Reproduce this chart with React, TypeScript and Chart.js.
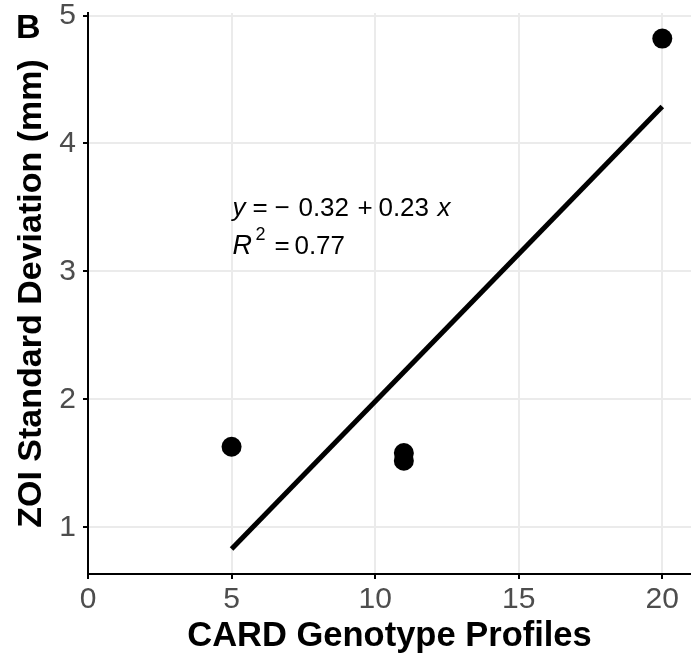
import React, { useEffect, useRef } from "react";
import { Chart, registerables } from "chart.js";

Chart.register(...registerables);

// ---- data ----
const profiles = [5, 11, 11, 20];
const zoiSD = [1.63, 1.58, 1.52, 4.82];
const fitX = [5, 20];
const fitY = [0.83, 4.29];
const xTicks = [0, 5, 10, 15, 20];
const yTicks = [1, 2, 3, 4, 5];
const xTitle = "CARD Genotype Profiles";
const yTitle = "ZOI Standard Deviation (mm)";
const panelTag = "B";
// equation label (anchor in data coordinates)
const eqAnchorX = 5.03;
const eqAnchorY = 3.435;
const eqLine1 = ["y", "=", "\u2212", "0.32", "+", "0.23", "x"];
const eqLine1Italic = [true, false, false, false, false, false, true];
const eqLine1Offsets = [0, 20, 42, 66, 125, 146, 205];
const eqLine2 = ["R", "2", "=", "0.77"];
const eqLine2Offsets = [0, 23, 42, 62];

const FONT = "'Liberation Sans', Arial, Helvetica, sans-serif";

const labelPlugin = {
  id: "labels",
  afterDatasetsDraw(chart: any) {
    const ctx = chart.ctx;
    const xs = chart.scales.x;
    const ys = chart.scales.y;
    const ax = xs.getPixelForValue(eqAnchorX);
    const ay = ys.getPixelForValue(eqAnchorY);
    ctx.save();
    ctx.fillStyle = "#000";
    ctx.textBaseline = "alphabetic";
    ctx.textAlign = "left";
    eqLine1.forEach((t, i) => {
      ctx.font = `${eqLine1Italic[i] ? "italic " : ""}26px ${FONT}`;
      ctx.fillText(t, ax + eqLine1Offsets[i], ay);
    });
    const ay2 = ay + 38;
    eqLine2.forEach((t, i) => {
      if (i === 0) {
        ctx.font = `italic 27px ${FONT}`;
        ctx.fillText(t, ax + eqLine2Offsets[i], ay2);
      } else if (i === 1) {
        ctx.font = `18px ${FONT}`;
        ctx.fillText(t, ax + eqLine2Offsets[i], ay2 - 14);
      } else {
        ctx.font = `26px ${FONT}`;
        ctx.fillText(t, ax + eqLine2Offsets[i], ay2);
      }
    });
    ctx.restore();
  },
  afterDraw(chart: any) {
    const ctx = chart.ctx;
    ctx.save();
    ctx.fillStyle = "#000";
    ctx.font = `bold 34px ${FONT}`;
    ctx.textBaseline = "alphabetic";
    ctx.textAlign = "left";
    ctx.fillText(panelTag, 16, 38);
    ctx.restore();
  },
};

export default function App() {
  const ref = useRef<HTMLCanvasElement | null>(null);

  useEffect(() => {
    if (!ref.current) return;
    const chart = new Chart(ref.current, {
      type: "scatter",
      data: {
        datasets: [
          {
            type: "scatter",
            data: profiles.map((x, i) => ({ x, y: zoiSD[i] })),
            backgroundColor: "#000",
            borderWidth: 0,
            pointRadius: 10,
            pointHoverRadius: 10,
          },
          {
            type: "line",
            data: fitX.map((x, i) => ({ x, y: fitY[i] })),
            borderColor: "#000",
            borderWidth: 5,
            pointRadius: 0,
            fill: false,
            showLine: true,
          } as any,
        ],
      },
      plugins: [labelPlugin],
      options: {
        responsive: false,
        animation: false,
        layout: { autoPadding: false, padding: { top: 13, right: 0, left: 0, bottom: 0 } },
        plugins: { legend: { display: false }, tooltip: { enabled: false } },
        scales: {
          x: {
            type: "linear",
            min: 0,
            max: 21,
            afterBuildTicks: (s: any) => {
              s.ticks = xTicks.map((v) => ({ value: v }));
            },
            afterFit: (s: any) => {
              s.height = 85;
              s.paddingLeft = 0;
              s.paddingRight = 0;
            },
            grid: {
              color: "#ebebeb",
              lineWidth: 2,
              drawTicks: true,
              tickLength: 5,
              tickColor: "#000",
              tickWidth: 2,
            },
            border: { display: true, color: "#000", width: 2 },
            ticks: {
              color: "#4d4d4d",
              font: { family: FONT, size: 30 },
              padding: 3,
              maxRotation: 0,
            },
            title: {
              display: true,
              text: xTitle,
              color: "#000",
              font: { family: FONT, size: 34.5, weight: "bold" },
              padding: { top: 0, bottom: 2 },
            },
          },
          y: {
            type: "linear",
            min: 0.635,
            max: 5.02,
            afterBuildTicks: (s: any) => {
              s.ticks = yTicks.map((v) => ({ value: v }));
            },
            afterFit: (s: any) => {
              s.width = 88;
              s.paddingTop = 0;
              s.paddingBottom = 0;
            },
            grid: {
              color: "#ebebeb",
              lineWidth: 2,
              drawTicks: true,
              tickLength: 5,
              tickColor: "#000",
              tickWidth: 2,
            },
            border: { display: true, color: "#000", width: 2 },
            ticks: {
              color: "#4d4d4d",
              font: { family: FONT, size: 30 },
              padding: 7,
            },
            title: {
              display: true,
              text: yTitle,
              color: "#000",
              font: { family: FONT, size: 34, weight: "bold" },
              padding: { top: 11, bottom: 0 },
            },
          },
        },
      },
    } as any);
    return () => chart.destroy();
  }, []);

  return (
    <div style={{ position: "fixed", left: 0, top: 0, width: 691, height: 659, background: "#fff" }}>
      <canvas ref={ref} width={691} height={659} style={{ display: "block" }} />
    </div>
  );
}
